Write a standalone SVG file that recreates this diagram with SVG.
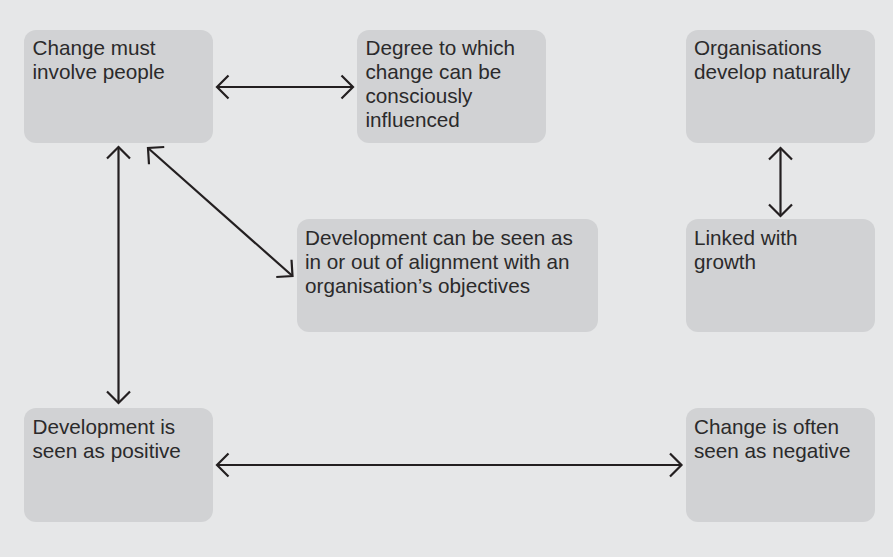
<svg xmlns="http://www.w3.org/2000/svg" width="893" height="557" viewBox="0 0 893 557">
<style>
.box{fill:#d1d2d4}
.t{font-family:"Liberation Sans",Arial,sans-serif;font-size:20.7px;fill:#2b2a2b}
.c{stroke:#231f20;stroke-width:2.2;fill:none;marker-start:url(#ah);marker-end:url(#ah)}
</style>
<defs>
<marker id="ah" markerUnits="userSpaceOnUse" markerWidth="30" markerHeight="30" viewBox="-15 -15 30 30" refX="0" refY="0" orient="auto-start-reverse" overflow="visible">
<path d="M -11.5 -11.5 L 0 0 L -11.5 11.5" fill="none" stroke="#231f20" stroke-width="2.2"/>
</marker>
</defs>
<rect width="893" height="557" fill="#e6e7e8"/>
<g id="n1"><rect class="box" x="24" y="30" width="189" height="113" rx="12"/>
<text class="t" x="32.5" y="55">Change must</text><text class="t" x="32.5" y="79.3">involve people</text></g>
<g id="n2"><rect class="box" x="357" y="30" width="189" height="113" rx="12"/>
<text class="t" x="365.5" y="55">Degree to which</text><text class="t" x="365.5" y="79.3">change can be</text><text class="t" x="365.5" y="103.3">consciously</text><text class="t" x="365.5" y="127.3">influenced</text></g>
<g id="n3"><rect class="box" x="686" y="30" width="189" height="113" rx="12"/>
<text class="t" x="694" y="55">Organisations</text><text class="t" x="694" y="79.3">develop naturally</text></g>
<g id="n4"><rect class="box" x="686" y="219" width="189" height="113" rx="12"/>
<text class="t" x="694" y="244.5">Linked with</text><text class="t" x="694" y="268.5">growth</text></g>
<g id="n5"><rect class="box" x="297" y="219" width="301" height="113" rx="12"/>
<text class="t" x="305" y="244.5">Development can be seen as</text><text class="t" x="305" y="268.5">in or out of alignment with an</text><text class="t" x="305" y="292.5">organisation’s objectives</text></g>
<g id="n6"><rect class="box" x="24" y="408" width="189" height="114" rx="12"/>
<text class="t" x="32.5" y="433.5">Development is</text><text class="t" x="32.5" y="457.8">seen as positive</text></g>
<g id="n7"><rect class="box" x="686" y="408" width="189" height="114" rx="12"/>
<text class="t" x="694" y="433.5">Change is often</text><text class="t" x="694" y="457.8">seen as negative</text></g>
<g id="connectors">
<line class="c" x1="217" y1="87" x2="353" y2="87"/>
<line class="c" x1="118.5" y1="147" x2="118.5" y2="403"/>
<line class="c" x1="148" y1="148" x2="292.5" y2="276"/>
<line class="c" x1="780.5" y1="148" x2="780.5" y2="216"/>
<line class="c" x1="217" y1="465" x2="681.5" y2="465"/>
</g>
</svg>
